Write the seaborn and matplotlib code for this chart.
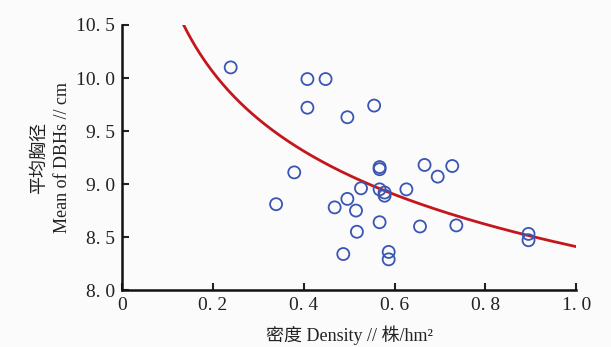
import numpy as np
import pandas as pd
import matplotlib
matplotlib.use("Agg")
import matplotlib.pyplot as plt
import seaborn as sns

# Data
density = [0.239, 0.408, 0.448, 0.408, 0.555, 0.496, 0.379, 0.339, 0.468, 0.496,
           0.526, 0.515, 0.517, 0.487, 0.567, 0.567, 0.567, 0.578, 0.578, 0.567,
           0.587, 0.587, 0.626, 0.656, 0.666, 0.695, 0.727, 0.736, 0.895, 0.895]
mean_dbh = [10.10, 9.99, 9.99, 9.72, 9.74, 9.63, 9.11, 8.81, 8.78, 8.86,
            8.96, 8.75, 8.55, 8.34, 9.16, 9.14, 8.95, 8.92, 8.89, 8.64,
            8.36, 8.29, 8.95, 8.60, 9.18, 9.07, 9.17, 8.61, 8.53, 8.47]

# Fitted power curve y = a * x^b
fit_a = 8.41
fit_b = -0.111
fit_xmin, fit_xmax = 0.135, 1.0

x_ticks = [0, 0.2, 0.4, 0.6, 0.8, 1.0]
x_ticklabels = ["0", "0. 2", "0. 4", "0. 6", "0. 8", "1. 0"]
y_ticks = [8.0, 8.5, 9.0, 9.5, 10.0, 10.5]
y_ticklabels = ["8. 0", "8. 5", "9. 0", "9. 5", "10. 0", "10. 5"]

sns.set_style("ticks")
plt.rcParams['font.family'] = ['Liberation Serif', 'Noto Sans CJK SC', 'DejaVu Sans']

fig = plt.figure(figsize=(6.11, 3.47), dpi=100, facecolor="#fbfbfb")
ax = fig.add_axes([0.2, 0.164, 0.743, 0.764])
ax.set_facecolor("#fbfbfb")

df = pd.DataFrame({"x": density, "y": mean_dbh})
sns.scatterplot(data=df, x="x", y="y", ax=ax, marker="o", s=75,
                facecolors="none", edgecolor="#3a55b4", linewidth=1.3, zorder=3)

xs = np.linspace(fit_xmin, fit_xmax, 200)
fit_df = pd.DataFrame({"x": xs, "y": fit_a * xs ** fit_b})
sns.lineplot(data=fit_df, x="x", y="y", ax=ax, color="#c4161c", linewidth=2.0, zorder=2)

ax.set_xlim(0, 1.0)
ax.set_ylim(8.0, 10.5)
ax.set_xticks(x_ticks)
ax.set_xticklabels(x_ticklabels)
ax.set_yticks(y_ticks)
ax.set_yticklabels(y_ticklabels)
ax.tick_params(direction="in", length=5, width=1.5, labelsize=14, colors="#222222", pad=5)
for s in ["top", "right"]:
    ax.spines[s].set_visible(False)
for s in ["left", "bottom"]:
    ax.spines[s].set_linewidth(1.8)
    ax.spines[s].set_color("#111111")

ax.set_xlabel("密度 Density // 株/hm²", fontsize=13, color="#222222", labelpad=8)
ax.set_ylabel("平均胸径\nMean of DBHs // cm", fontsize=13, color="#222222", labelpad=4,
              linespacing=1.4)

fig.savefig("out.png", dpi=100, facecolor=fig.get_facecolor())
